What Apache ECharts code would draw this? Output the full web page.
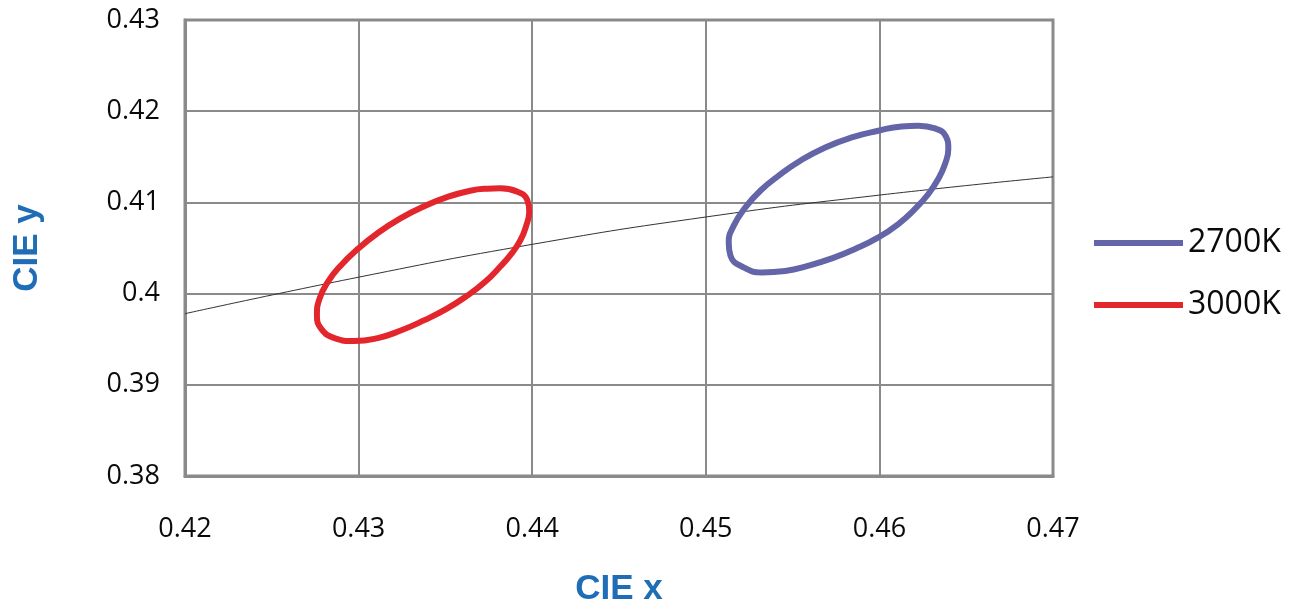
<!DOCTYPE html>
<html>
<head>
<meta charset="utf-8">
<script src="https://cdn.jsdelivr.net/npm/echarts@6/dist/echarts.min.js"></script>
<style>html,body{margin:0;padding:0;background:#fff;}#c{width:1289px;height:605px;}</style>
</head>
<body>
<div id="c"></div>
<script>
// Data
const xTicks = [0.42, 0.43, 0.44, 0.45, 0.46, 0.47];
const yTicks = [0.38, 0.39, 0.40, 0.41, 0.42, 0.43];
const seriesNames = ['2700K', '3000K'];
const ellipse2700 = [
  [0.46224,0.41841],[0.46320,0.41811],[0.46383,0.41724],[0.46397,0.41586],[0.46378,0.41421],
  [0.46339,0.41257],[0.46282,0.41092],[0.46205,0.40928],[0.46109,0.40763],[0.45994,0.40616],
  [0.45860,0.40489],[0.45726,0.40386],[0.45592,0.40306],[0.45458,0.40248],[0.45324,0.40232],
  [0.45218,0.40287],[0.45142,0.40416],[0.45132,0.40561],[0.45161,0.40745],[0.45228,0.40945],
  [0.45314,0.41128],[0.45420,0.41293],[0.45544,0.41457],[0.45688,0.41603],[0.45841,0.41713],
  [0.45994,0.41786],[0.46128,0.41833],[0.46224,0.41841]
];
const ellipse3000 = [
  [0.43815,0.41154],[0.43910,0.41121],[0.43971,0.41029],[0.43983,0.40901],[0.43967,0.40753],
  [0.43933,0.40588],[0.43882,0.40441],[0.43815,0.40294],[0.43729,0.40129],[0.43624,0.39975],
  [0.43509,0.39835],[0.43376,0.39706],[0.43243,0.39595],[0.43110,0.39512],[0.42975,0.39479],
  [0.42861,0.39512],[0.42785,0.39614],[0.42760,0.39761],[0.42775,0.39945],[0.42823,0.40129],
  [0.42899,0.40312],[0.42994,0.40488],[0.43109,0.40662],[0.43243,0.40827],[0.43376,0.40956],
  [0.43509,0.41058],[0.43643,0.41128],[0.43739,0.41150],[0.43815,0.41154]
];
const planckian = [[0.42,0.3978],[0.43,0.4018],[0.44,0.4054],[0.45,0.4084],[0.46,0.4108],[0.47,0.4128]];

const chart = echarts.init(document.getElementById('c'), null, {renderer: 'canvas'});
const fmt = v => String(Number(v.toFixed(2)));
const gridColor = '#8a8a8a';
const labelFont = {color: '#0a0a0a', fontFamily: 'Open Sans', fontSize: 27};
const nameFont = {color: '#1f6db7', fontFamily: 'Liberation Sans', fontWeight: 'bold', fontSize: 35};

chart.setOption({
  animation: false,
  backgroundColor: '#fff',
  grid: {left: 185, right: 236, top: 20, bottom: 129, outerBoundsMode: 'none', containLabel: false,
         show: true, borderColor: gridColor, borderWidth: 3, backgroundColor: 'transparent'},
  legend: {
    data: seriesNames,
    orient: 'vertical',
    left: 1089, top: 222,
    icon: 'rect', itemWidth: 89, itemHeight: 6, itemGap: 30,
    textStyle: {color: '#0a0a0a', fontFamily: 'Open Sans', fontSize: 32},
    selectedMode: false
  },
  xAxis: {
    type: 'value', min: xTicks[0], max: xTicks[xTicks.length-1], interval: 0.01,
    name: 'CIE x', nameLocation: 'middle', nameGap: 96, nameTextStyle: nameFont,
    axisLine: {show: true, lineStyle: {color: gridColor, width: 3}},
    axisTick: {show: false},
    splitLine: {show: true, lineStyle: {color: gridColor, width: 2}},
    axisLabel: Object.assign({margin: 40, formatter: fmt}, labelFont)
  },
  yAxis: {
    type: 'value', min: yTicks[0], max: yTicks[yTicks.length-1], interval: 0.01,
    name: 'CIE y', nameLocation: 'middle', nameGap: 140, nameRotate: 90, nameTextStyle: nameFont,
    axisLine: {show: true, lineStyle: {color: gridColor, width: 3}},
    axisTick: {show: false},
    splitLine: {show: true, lineStyle: {color: gridColor, width: 2}},
    axisLabel: Object.assign({margin: 25, formatter: fmt}, labelFont)
  },
  series: [
    {name: 'planckian', type: 'line', data: planckian, smooth: true, symbol: 'none',
     lineStyle: {color: '#333', width: 1}, z: 3, silent: true},
    {name: seriesNames[0], type: 'line', data: ellipse2700, smooth: true, symbol: 'none',
     itemStyle: {color: '#6465a8'}, lineStyle: {color: '#6465a8', width: 6}, z: 4},
    {name: seriesNames[1], type: 'line', data: ellipse3000, smooth: true, symbol: 'none',
     itemStyle: {color: '#e3262c'}, lineStyle: {color: '#e3262c', width: 6}, z: 4}
  ]
});
</script>
</body>
</html>
